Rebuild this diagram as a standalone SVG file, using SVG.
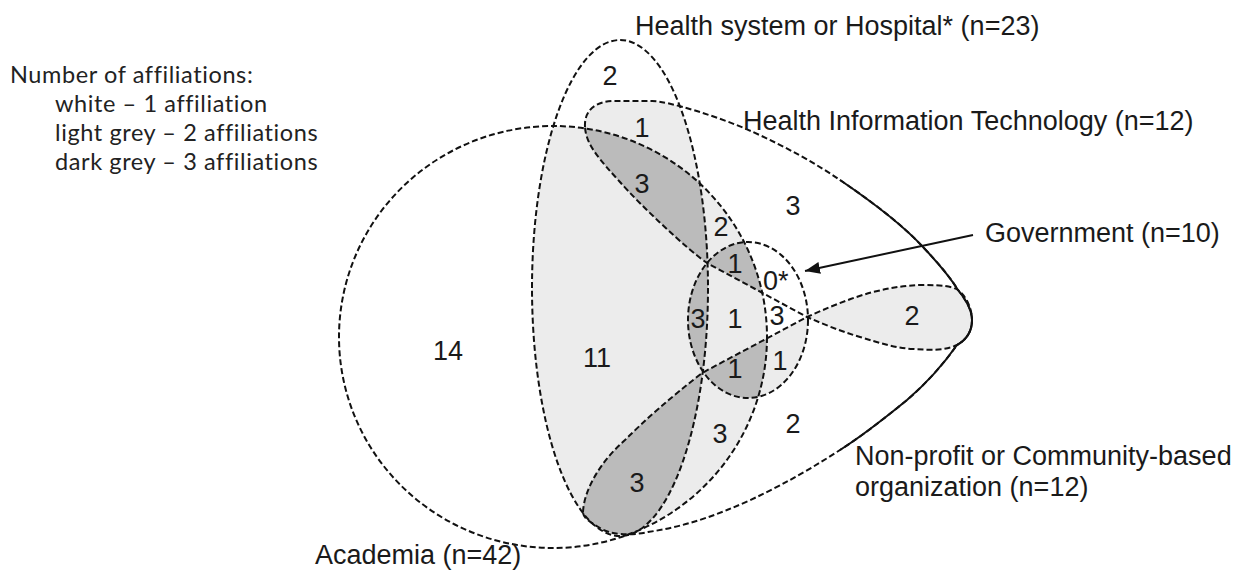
<svg xmlns="http://www.w3.org/2000/svg" width="1243" height="573" viewBox="0 0 1243 573">
<style>
 .lbl{font-family:"Liberation Sans",Arial,sans-serif;font-size:27px;fill:#1a1a1a}
 .num{font-family:"Liberation Sans",Arial,sans-serif;font-size:27px;fill:#1a1a1a;text-anchor:middle}
 .leg{font-family:Lato,"Liberation Sans",sans-serif;font-size:23.5px;letter-spacing:0.6px;fill:#222}
 .edge{fill:none;stroke:#111;stroke-width:2;stroke-dasharray:6 3}
 .solid{fill:none;stroke:#111;stroke-width:2}
 .lt{fill:#ececec}
 .dk{fill:#bbbbbb}
</style>
<defs>
 <ellipse id="A" cx="553" cy="337" rx="214" ry="211"/>
 <ellipse id="H" cx="620" cy="288" rx="88" ry="248"/>
 <ellipse id="G" cx="748" cy="320" rx="60" ry="78"/>
 <path id="T" d="M585,127 C584,110 596,101 614,101 L652,101 C668,101 720,117 753,132 C786,147 815,163 840,180 C865,197 900,222 923,247 C940,265 950,277 958,290 C966,300 972,310 972,320 C972,332 966,340 957,345 C945,351 930,350 913,349 C895,348 880,343 860,337 C840,331 823,324 807,317 L707,263 C688,250 640,205 620,182 C600,160 586,145 585,127 Z"/>
 <path id="N" d="M583,512 C584,490 600,462 625,440 C645,420 670,398 702,373 L807,317 C825,309 850,298 873,292 C890,288 905,285 925,285 C940,285 952,286 958,290 C966,296 972,308 972,320 C972,332 966,340 957,345 C945,362 928,382 907,400 C885,418 862,436 840,450 C800,476 760,497 727,510 C700,521 675,528 648,532 C630,536 610,535 600,528 C590,522 583,518 583,512 Z"/>
 <clipPath id="cA"><use href="#A"/></clipPath>
 <clipPath id="cH"><use href="#H"/></clipPath>
 <clipPath id="cT"><use href="#T"/></clipPath>
 <clipPath id="cG"><use href="#G"/></clipPath>
 <marker id="ah" markerUnits="userSpaceOnUse" markerWidth="16" markerHeight="12" refX="15" refY="6" orient="auto">
  <path d="M0,0 L15,6 L0,12 Z" fill="#111"/>
 </marker>
</defs>
<rect width="1243" height="573" fill="#fff"/>
<g id="fills">
 <g clip-path="url(#cA)">
  <use href="#H" class="lt"/>
  <use href="#T" class="lt"/>
  <use href="#N" class="lt"/>
  <use href="#G" class="lt"/>
 </g>
 <g clip-path="url(#cH)"><use href="#T" class="lt"/></g>
 <g clip-path="url(#cT)"><use href="#N" class="lt"/></g>
 <g clip-path="url(#cG)"><use href="#N" class="lt"/></g>
 <g clip-path="url(#cA)">
  <g clip-path="url(#cH)"><use href="#T" class="dk"/><use href="#N" class="dk"/><use href="#G" class="dk"/></g>
  <g clip-path="url(#cG)"><use href="#T" class="dk"/><use href="#N" class="dk"/></g>
 </g>
</g>
<g id="academia">
 <use href="#A" class="edge"/>
 <text class="lbl" x="315" y="564">Academia (n=42)</text>
</g>
<g id="hospital">
 <use href="#H" class="edge"/>
 <text class="lbl" x="635" y="35">Health system or Hospital* (n=23)</text>
</g>
<g id="hit">
 <use href="#T" class="edge"/>
 <path class="solid" d="M840,180 C865,197 900,222 923,247 C940,265 950,277 958,290 C966,300 972,310 972,320 C972,332 966,340 957,345"/>
 <text class="lbl" x="743" y="130">Health Information Technology (n=12)</text>
</g>
<g id="nonprofit">
 <use href="#N" class="edge"/>
 <path class="solid" d="M957,345 C945,362 928,382 907,400 C885,418 862,436 840,450"/>
 <text class="lbl" x="855" y="465">Non-profit or Community-based</text>
 <text class="lbl" x="855" y="496">organization (n=12)</text>
</g>
<g id="government">
 <use href="#G" class="edge"/>
 <text class="lbl" x="985" y="242">Government (n=10)</text>
</g>
<g id="connectors">
 <line x1="973" y1="235" x2="805" y2="271" stroke="#111" stroke-width="2" marker-end="url(#ah)"/>
</g>
<g id="counts">
 <text class="num" x="610" y="85">2</text>
 <text class="num" x="642" y="137">1</text>
 <text class="num" x="642" y="193">3</text>
 <text class="num" x="793" y="215">3</text>
 <text class="num" x="721" y="236">2</text>
 <text class="num" x="735" y="273">1</text>
 <text class="lbl" x="763" y="290">0*</text>
 <text class="num" x="698" y="328">3</text>
 <text class="num" x="735" y="328">1</text>
 <text class="num" x="777" y="325">3</text>
 <text class="num" x="912" y="325">2</text>
 <text class="num" x="597" y="367">11</text>
 <text class="num" x="448" y="360">14</text>
 <text class="num" x="735" y="378">1</text>
 <text class="num" x="780" y="370">1</text>
 <text class="num" x="720" y="443">3</text>
 <text class="num" x="793" y="433">2</text>
 <text class="num" x="637" y="492">3</text>
</g>
<g id="legend">
 <text class="leg" x="10" y="83">Number of affiliations:</text>
 <text class="leg" x="55" y="112">white – 1 affiliation</text>
 <text class="leg" x="55" y="141">light grey – 2 affiliations</text>
 <text class="leg" x="55" y="170">dark grey – 3 affiliations</text>
</g>
</svg>
